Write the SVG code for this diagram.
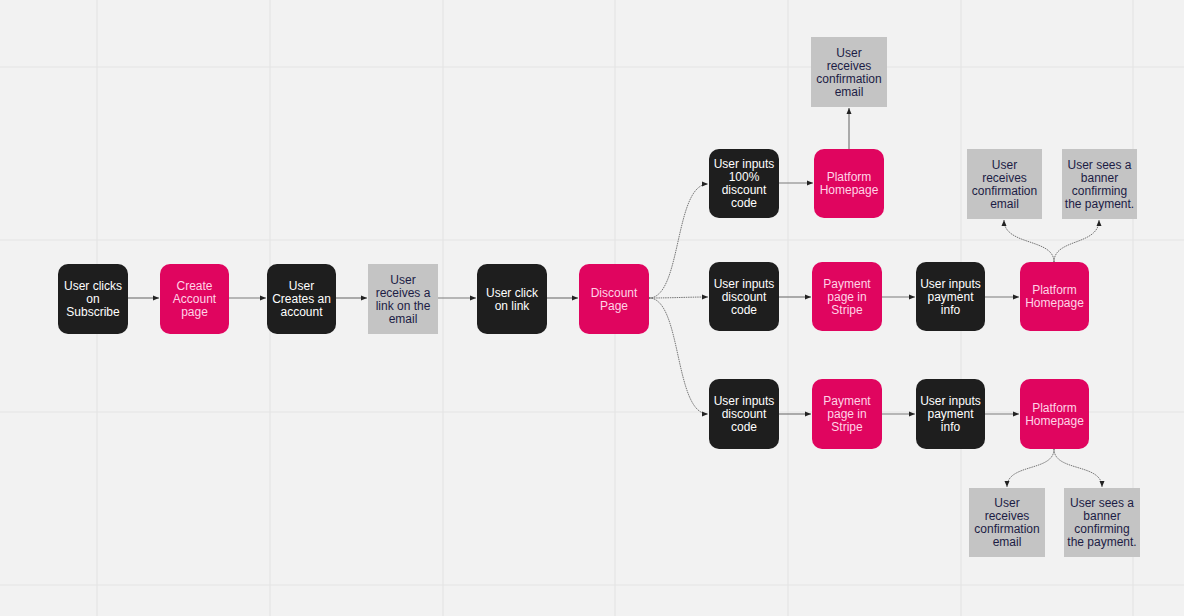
<svg xmlns="http://www.w3.org/2000/svg" width="1184" height="616" viewBox="0 0 1184 616">
<style>
.bg{fill:#f2f2f2}
.grid line{stroke:#e4e4e4;stroke-width:1.2}
.blk{fill:#1e1e1e}
.pnk{fill:#e0055f}
.gry{fill:#c4c4c4}
text{font-family:"Liberation Sans",Arial,sans-serif;font-size:12px;text-anchor:middle}
.tw{fill:#ffffff}
.tp{fill:#ffd3e6}
.tg{fill:#1c1c45}
.conn path{fill:none;stroke:#7a7a7a;stroke-width:1.2}
.conn path.c{stroke:#555;stroke-width:0.8;stroke-dasharray:1.5 0.8}
</style>
<defs>
<marker id="ah" markerUnits="userSpaceOnUse" markerWidth="6" markerHeight="6" refX="6" refY="3" orient="auto">
<path d="M0,0.5 L6,3 L0,5.5 z" fill="#222"/>
</marker>
</defs>
<rect class="bg" x="0" y="0" width="1184" height="616"/>
<g class="grid">
<line x1="97" y1="0" x2="97" y2="616"/>
<line x1="270" y1="0" x2="270" y2="616"/>
<line x1="443" y1="0" x2="443" y2="616"/>
<line x1="615" y1="0" x2="615" y2="616"/>
<line x1="788" y1="0" x2="788" y2="616"/>
<line x1="961" y1="0" x2="961" y2="616"/>
<line x1="1133" y1="0" x2="1133" y2="616"/>
<line x1="0" y1="67" x2="1184" y2="67"/>
<line x1="0" y1="240" x2="1184" y2="240"/>
<line x1="0" y1="412" x2="1184" y2="412"/>
<line x1="0" y1="585" x2="1184" y2="585"/>
</g>
<g class="conn">
<path d="M128,298 L159,298" marker-end="url(#ah)"/>
<path d="M229,298 L266,298" marker-end="url(#ah)"/>
<path d="M336,298 L367,298" marker-end="url(#ah)"/>
<path d="M438,298 L476,298" marker-end="url(#ah)"/>
<path d="M547,298 L578,298" marker-end="url(#ah)"/>
<path class="c" d="M649,298 C682,298 674,184 708,184" marker-end="url(#ah)"/>
<path class="c" d="M649,298 C672,298 688,297 708,297" marker-end="url(#ah)"/>
<path class="c" d="M649,298 C682,298 674,414 708,414" marker-end="url(#ah)"/>
<path d="M779,183 L813,183" marker-end="url(#ah)"/>
<path d="M849,149 L849,108" marker-end="url(#ah)"/>
<path d="M779,297 L811,297" marker-end="url(#ah)"/>
<path d="M882,297 L915,297" marker-end="url(#ah)"/>
<path d="M985,297 L1019,297" marker-end="url(#ah)"/>
<path class="c" d="M1054,262 C1054,238 1004,246 1004,220" marker-end="url(#ah)"/>
<path class="c" d="M1054,262 C1054,238 1099,246 1099,220" marker-end="url(#ah)"/>
<path d="M779,414 L811,414" marker-end="url(#ah)"/>
<path d="M882,414 L915,414" marker-end="url(#ah)"/>
<path d="M985,414 L1019,414" marker-end="url(#ah)"/>
<path class="c" d="M1054,449 C1054,472 1007,463 1007,487" marker-end="url(#ah)"/>
<path class="c" d="M1054,449 C1054,472 1102,463 1102,487" marker-end="url(#ah)"/>
</g>
<g id="n1"><rect class="blk" x="58" y="264" width="70" height="70" rx="10"/><text class="tw"><tspan x="93" y="290">User clicks</tspan><tspan x="93" y="303">on</tspan><tspan x="93" y="316">Subscribe</tspan></text></g>
<g id="n2"><rect class="pnk" x="160" y="264" width="69" height="70" rx="10"/><text class="tp"><tspan x="194.5" y="290">Create</tspan><tspan x="194.5" y="303">Account</tspan><tspan x="194.5" y="316">page</tspan></text></g>
<g id="n3"><rect class="blk" x="267" y="264" width="69" height="70" rx="10"/><text class="tw"><tspan x="301.5" y="290">User</tspan><tspan x="301.5" y="303">Creates an</tspan><tspan x="301.5" y="316">account</tspan></text></g>
<g id="n4"><rect class="gry" x="368" y="264" width="70" height="70"/><text class="tg"><tspan x="403" y="283.5">User</tspan><tspan x="403" y="296.5">receives a</tspan><tspan x="403" y="309.5">link on the</tspan><tspan x="403" y="322.5">email</tspan></text></g>
<g id="n5"><rect class="blk" x="477" y="264" width="70" height="70" rx="10"/><text class="tw"><tspan x="512" y="296.5">User click</tspan><tspan x="512" y="309.5">on link</tspan></text></g>
<g id="n6"><rect class="pnk" x="579" y="264" width="70" height="70" rx="10"/><text class="tp"><tspan x="614" y="296.5">Discount</tspan><tspan x="614" y="309.5">Page</tspan></text></g>
<g id="n7"><rect class="blk" x="709" y="149" width="70" height="69" rx="10"/><text class="tw"><tspan x="744" y="168">User inputs</tspan><tspan x="744" y="181">100%</tspan><tspan x="744" y="194">discount</tspan><tspan x="744" y="207">code</tspan></text></g>
<g id="n8"><rect class="pnk" x="814" y="149" width="70" height="69" rx="10"/><text class="tp"><tspan x="849" y="181">Platform</tspan><tspan x="849" y="194">Homepage</tspan></text></g>
<g id="n9"><rect class="gry" x="811" y="37" width="76" height="70"/><text class="tg"><tspan x="849" y="56.5">User</tspan><tspan x="849" y="69.5">receives</tspan><tspan x="849" y="82.5">confirmation</tspan><tspan x="849" y="95.5">email</tspan></text></g>
<g id="n10"><rect class="blk" x="709" y="262" width="70" height="69" rx="10"/><text class="tw"><tspan x="744" y="287.5">User inputs</tspan><tspan x="744" y="300.5">discount</tspan><tspan x="744" y="313.5">code</tspan></text></g>
<g id="n11"><rect class="pnk" x="812" y="262" width="70" height="69" rx="10"/><text class="tp"><tspan x="847" y="287.5">Payment</tspan><tspan x="847" y="300.5">page in</tspan><tspan x="847" y="313.5">Stripe</tspan></text></g>
<g id="n12"><rect class="blk" x="916" y="262" width="69" height="69" rx="10"/><text class="tw"><tspan x="950.5" y="287.5">User inputs</tspan><tspan x="950.5" y="300.5">payment</tspan><tspan x="950.5" y="313.5">info</tspan></text></g>
<g id="n13"><rect class="pnk" x="1020" y="262" width="69" height="69" rx="10"/><text class="tp"><tspan x="1054.5" y="294">Platform</tspan><tspan x="1054.5" y="307">Homepage</tspan></text></g>
<g id="n14"><rect class="gry" x="967" y="149" width="75" height="70"/><text class="tg"><tspan x="1004.5" y="168.5">User</tspan><tspan x="1004.5" y="181.5">receives</tspan><tspan x="1004.5" y="194.5">confirmation</tspan><tspan x="1004.5" y="207.5">email</tspan></text></g>
<g id="n15"><rect class="gry" x="1062" y="149" width="75" height="70"/><text class="tg"><tspan x="1099.5" y="168.5">User sees a</tspan><tspan x="1099.5" y="181.5">banner</tspan><tspan x="1099.5" y="194.5">confirming</tspan><tspan x="1099.5" y="207.5">the payment.</tspan></text></g>
<g id="n16"><rect class="blk" x="709" y="379" width="70" height="70" rx="10"/><text class="tw"><tspan x="744" y="405">User inputs</tspan><tspan x="744" y="418">discount</tspan><tspan x="744" y="431">code</tspan></text></g>
<g id="n17"><rect class="pnk" x="812" y="379" width="70" height="70" rx="10"/><text class="tp"><tspan x="847" y="405">Payment</tspan><tspan x="847" y="418">page in</tspan><tspan x="847" y="431">Stripe</tspan></text></g>
<g id="n18"><rect class="blk" x="916" y="379" width="69" height="70" rx="10"/><text class="tw"><tspan x="950.5" y="405">User inputs</tspan><tspan x="950.5" y="418">payment</tspan><tspan x="950.5" y="431">info</tspan></text></g>
<g id="n19"><rect class="pnk" x="1020" y="379" width="69" height="70" rx="10"/><text class="tp"><tspan x="1054.5" y="411.5">Platform</tspan><tspan x="1054.5" y="424.5">Homepage</tspan></text></g>
<g id="n20"><rect class="gry" x="969" y="488" width="76" height="69"/><text class="tg"><tspan x="1007" y="507">User</tspan><tspan x="1007" y="520">receives</tspan><tspan x="1007" y="533">confirmation</tspan><tspan x="1007" y="546">email</tspan></text></g>
<g id="n21"><rect class="gry" x="1064" y="488" width="76" height="69"/><text class="tg"><tspan x="1102" y="507">User sees a</tspan><tspan x="1102" y="520">banner</tspan><tspan x="1102" y="533">confirming</tspan><tspan x="1102" y="546">the payment.</tspan></text></g>
</svg>
